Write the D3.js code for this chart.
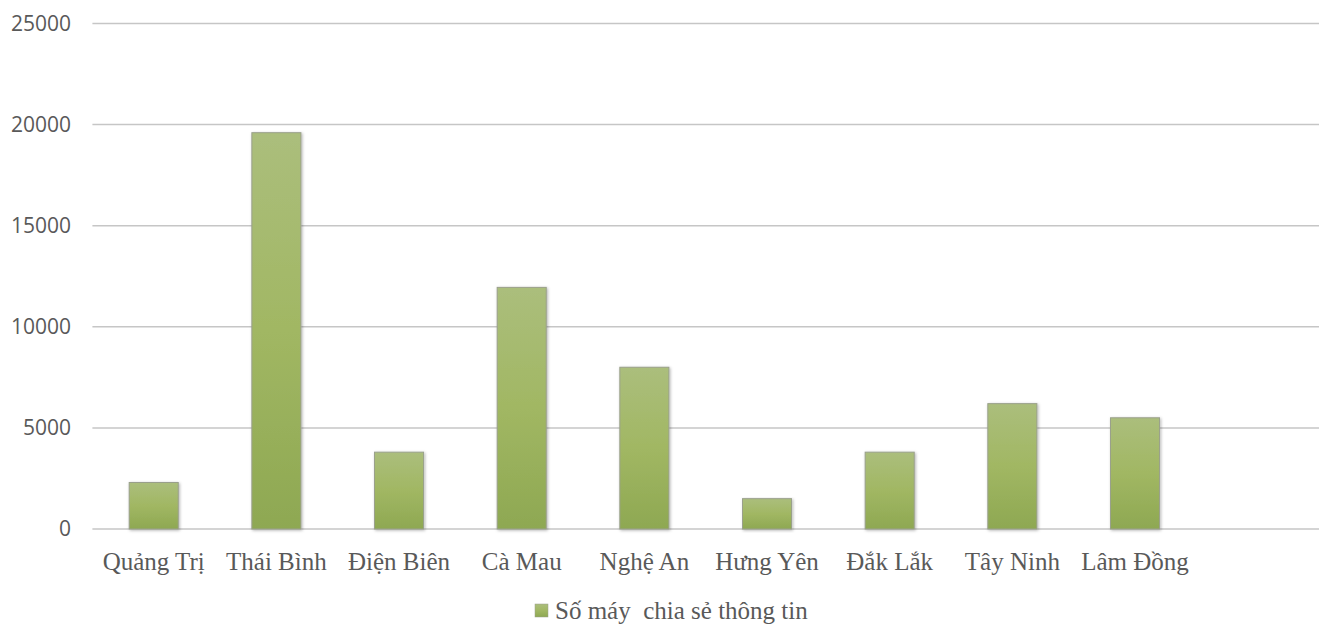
<!DOCTYPE html>
<html>
<head>
<meta charset="utf-8">
<script src="https://cdn.jsdelivr.net/npm/d3@7"></script>
<style>
  html, body { margin: 0; padding: 0; background: #fff; }
  svg { display: block; }
</style>
</head>
<body>
<svg id="chart" width="1326" height="624"></svg>
<script>
// ---- data ----
const categories = ["Quảng Trị", "Thái Bình", "Điện Biên", "Cà Mau", "Nghệ An", "Hưng Yên", "Đắk Lắk", "Tây Ninh", "Lâm Đồng", ""];
const values = [2300, 19600, 3800, 11950, 8000, 1500, 3800, 6200, 5500, null];
const yTicks = [0, 5000, 10000, 15000, 20000, 25000];
const seriesName = "Số máy  chia sẻ thông tin";

// ---- layout ----
const plotLeft = 92.4, plotRight = 1319, plotTop = 23.5, plotBottom = 529;

const svg = d3.select("#chart");

const defs = svg.append("defs");
const grad = defs.append("linearGradient").attr("id", "barGrad")
  .attr("x1", 0).attr("y1", 0).attr("x2", 0).attr("y2", 1);
grad.append("stop").attr("offset", "0%").attr("stop-color", "#abbe7c");
grad.append("stop").attr("offset", "50%").attr("stop-color", "#a1b763");
grad.append("stop").attr("offset", "100%").attr("stop-color", "#8ea852");

const shadow = defs.append("filter").attr("id", "shadow")
  .attr("x", "-20%").attr("y", "-5%").attr("width", "140%").attr("height", "115%");
shadow.append("feDropShadow").attr("dx", 1).attr("dy", 1).attr("stdDeviation", 1.5)
  .attr("flood-color", "#000").attr("flood-opacity", 0.3);

const x = d3.scaleBand().domain(d3.range(categories.length))
  .range([plotLeft, plotRight]).paddingInner(0.6).paddingOuter(0.3);
const y = d3.scaleLinear().domain([0, 25000]).range([plotBottom, plotTop]);

// gridlines
svg.append("g").selectAll("line").data(yTicks).join("line")
  .attr("x1", plotLeft).attr("x2", plotRight)
  .attr("y1", d => y(d)).attr("y2", d => y(d))
  .attr("stroke", "#c6c6c6").attr("stroke-width", 1.5);

// y axis labels
const yAxis = d3.axisLeft(y).tickValues(yTicks).tickSize(0).tickPadding(0).tickFormat(d3.format("d"));
const gy = svg.append("g").attr("transform", `translate(71,0)`).call(yAxis);
gy.select(".domain").remove();
gy.selectAll("text")
  .attr("font-family", "'Open Sans', sans-serif")
  .attr("font-size", "21px")
  .attr("fill", "#595959");

// bars
svg.append("g").selectAll("rect")
  .data(values.map((v, i) => ({ v, i })).filter(d => d.v != null))
  .join("rect")
  .attr("x", d => x(d.i))
  .attr("width", x.bandwidth())
  .attr("y", d => y(d.v))
  .attr("height", d => y(0) - y(d.v))
  .attr("fill", "url(#barGrad)")
  .attr("stroke", "#9aa08c").attr("stroke-width", 1)
  .attr("filter", "url(#shadow)");

// x axis labels
const xAxis = d3.axisBottom(x).tickSize(0).tickPadding(0).tickFormat(i => categories[i]);
const gx = svg.append("g").attr("transform", `translate(0,${plotBottom})`).call(xAxis);
gx.select(".domain").remove();
gx.selectAll("text")
  .attr("dy", 0)
  .attr("y", 40.5)
  .attr("font-family", "'Liberation Serif', 'Times New Roman', serif")
  .attr("font-size", "25px")
  .attr("fill", "#595959");

// legend
const lg = svg.append("g");
lg.append("rect").attr("x", 535).attr("y", 604).attr("width", 13).attr("height", 13)
  .attr("fill", "url(#barGrad)").attr("stroke", "#9aa08c").attr("stroke-width", 0.5);
lg.append("text").attr("x", 555).attr("y", 619)
  .attr("xml:space", "preserve").style("white-space", "pre")
  .attr("font-family", "'Liberation Serif', 'Times New Roman', serif")
  .attr("font-size", "25px")
  .attr("fill", "#595959")
  .text(seriesName);
</script>
</body>
</html>
